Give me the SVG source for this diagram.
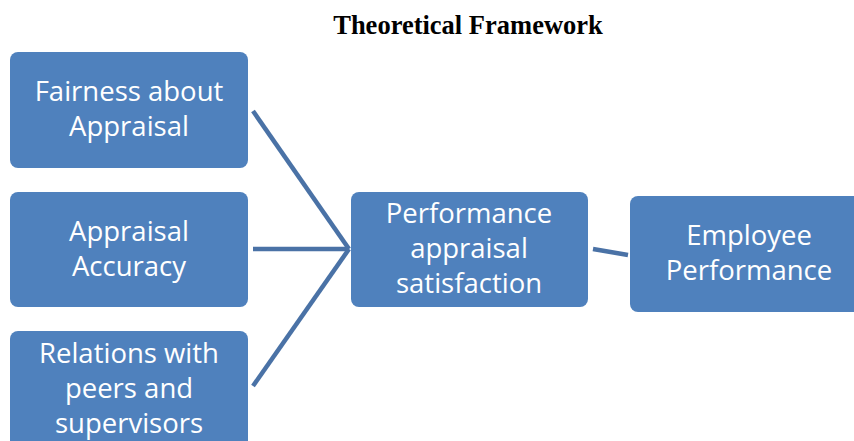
<svg xmlns="http://www.w3.org/2000/svg" width="854" height="441" viewBox="0 0 854 441">
<style>
.box{fill:#4F81BD;}
.lbl{font-family:"Open Sans","Noto Sans",sans-serif;font-size:27.5px;fill:#fff;text-anchor:middle;}
.con{stroke:#4A72A6;stroke-width:4.5;fill:none;}
.title{font-family:"Liberation Serif",serif;font-weight:bold;font-size:26.5px;fill:#000;text-anchor:middle;}
</style>
<rect width="854" height="441" fill="#fff"/>
<text class="title" x="468" y="34">Theoretical Framework</text>
<g id="connectors">
<line class="con" x1="253" y1="111" x2="349" y2="249"/>
<line class="con" x1="253" y1="249" x2="349" y2="249"/>
<line class="con" x1="253" y1="386" x2="349" y2="249"/>
<line class="con" x1="593" y1="249" x2="628" y2="255"/>
</g>
<g id="fairness">
<rect class="box" x="10" y="52" width="238" height="116" rx="8"/>
<text class="lbl" x="129" y="101">Fairness about</text>
<text class="lbl" x="129" y="136">Appraisal</text>
</g>
<g id="accuracy">
<rect class="box" x="10" y="192" width="238" height="115" rx="8"/>
<text class="lbl" x="129" y="241">Appraisal</text>
<text class="lbl" x="129" y="276">Accuracy</text>
</g>
<g id="relations">
<rect class="box" x="10" y="331" width="238" height="125" rx="8"/>
<text class="lbl" x="129" y="363">Relations with</text>
<text class="lbl" x="129" y="398">peers and</text>
<text class="lbl" x="129" y="433">supervisors</text>
</g>
<g id="satisfaction">
<rect class="box" x="351" y="192" width="237" height="115" rx="8"/>
<text class="lbl" x="469" y="223">Performance</text>
<text class="lbl" x="469" y="258">appraisal</text>
<text class="lbl" x="469" y="293">satisfaction</text>
</g>
<g id="employee">
<rect class="box" x="630" y="196" width="238" height="116" rx="8"/>
<text class="lbl" x="749" y="245">Employee</text>
<text class="lbl" x="749" y="280">Performance</text>
</g>
</svg>
